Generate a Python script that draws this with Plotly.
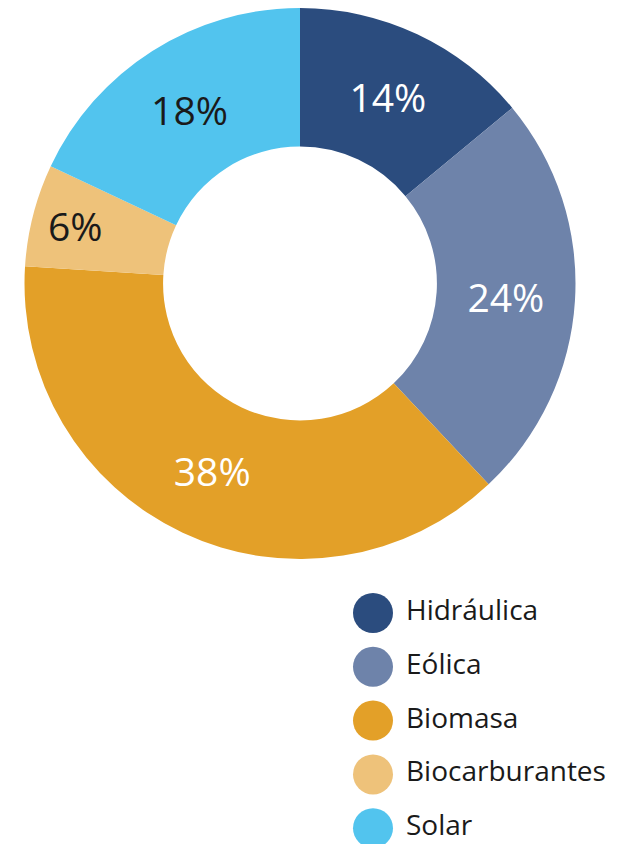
import plotly.graph_objects as go

# datos
fuentes = ["Hidráulica", "Eólica", "Biomasa", "Biocarburantes", "Solar"]
porcentajes = [14, 24, 38, 6, 18]
colores = ["#2B4C7E", "#6E83AA", "#E3A028", "#EEC27A", "#52C4EE"]
colores_texto = ["white", "white", "white", "#1a1a1a", "#1a1a1a"]

# la página deja 8 px de margen en el body
OFF = 8
W, H = 632 - OFF, 844 - OFF
FONT = "Open Sans"

# donut: centro (300, 283) en la página, radio ~276
cx, cy, r = 300 - OFF, 283.5 - OFF, 275.5

fig = go.Figure()

fig.add_trace(
    go.Pie(
        labels=fuentes,
        values=porcentajes,
        marker=dict(colors=colores, line=dict(width=0)),
        hole=0.497,
        sort=False,
        direction="clockwise",
        rotation=0,
        texttemplate="%{value}%",
        textposition="inside",
        insidetextorientation="horizontal",
        textfont=dict(family=FONT, size=39, color=colores_texto),
        domain=dict(x=[(cx - r) / W, (cx + r) / W],
                    y=[max(0, 1 - (cy + r) / H), min(1, 1 - (cy - r) / H)]),
        showlegend=False,
    )
)

# leyenda dibujada a mano (círculos)
fila_y = [613 - OFF + i * 53.8 for i in range(len(fuentes))]
fig.add_trace(
    go.Scatter(
        x=[373 - OFF] * len(fuentes),
        y=fila_y,
        mode="markers",
        marker=dict(size=40, color=colores, line=dict(width=0)),
        hoverinfo="skip",
        showlegend=False,
    )
)
fig.add_trace(
    go.Scatter(
        x=[406 - OFF] * len(fuentes),
        y=fila_y,
        mode="text",
        text=fuentes,
        textposition="middle right",
        textfont=dict(family=FONT, size=28, color="#1a1a1a"),
        hoverinfo="skip",
        showlegend=False,
    )
)

fig.update_xaxes(range=[0, W], visible=False, fixedrange=True)
fig.update_yaxes(range=[H, 0], visible=False, fixedrange=True)
fig.update_layout(
    width=W,
    height=H,
    margin=dict(l=0, r=0, t=0, b=0),
    paper_bgcolor="white",
    plot_bgcolor="rgba(0,0,0,0)",
    font=dict(family=FONT),
)

fig.write_html("out.html")
